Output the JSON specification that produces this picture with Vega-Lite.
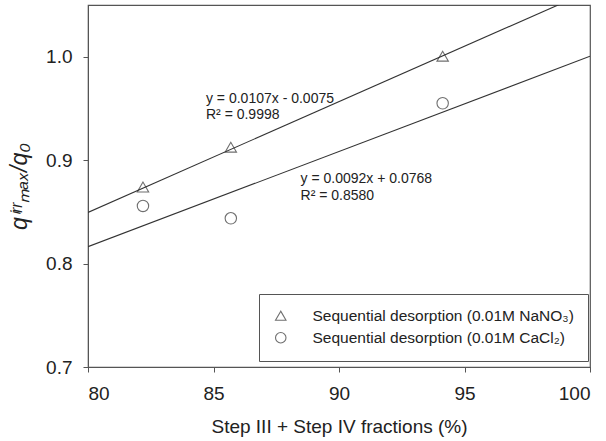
{
  "$schema": "https://vega.github.io/schema/vega-lite/v6.json",
  "width": 502,
  "height": 362,
  "autosize": {"type": "none"},
  "padding": {"left": 88, "top": 5, "right": 16, "bottom": 74},
  "background": "white",
  "config": {
    "font": "Liberation Sans",
    "view": {"stroke": "#555", "strokeWidth": 1.2},
    "axis": {
      "grid": false,
      "domainColor": "#555",
      "tickColor": "#555",
      "tickSize": 5,
      "labelColor": "#222",
      "titleColor": "#222",
      "labelFont": "Liberation Sans",
      "titleFont": "Liberation Sans",
      "labelFontSize": 19,
      "titleFontWeight": "normal"
    }
  },
  "datasets": {
    "pts": [
      {"x": 82.19, "y": 0.874, "s": "Sequential desorption (0.01M NaNO₃)"},
      {"x": 85.69, "y": 0.9125, "s": "Sequential desorption (0.01M NaNO₃)"},
      {"x": 94.13, "y": 1.0005, "s": "Sequential desorption (0.01M NaNO₃)"},
      {"x": 82.19, "y": 0.8557, "s": "Sequential desorption (0.01M CaCl₂)"},
      {"x": 85.69, "y": 0.8438, "s": "Sequential desorption (0.01M CaCl₂)"},
      {"x": 94.13, "y": 0.955, "s": "Sequential desorption (0.01M CaCl₂)"}
    ],
    "fits": [
      {"x": 80, "y": 0.8495, "f": "NaNO3"},
      {"x": 100, "y": 1.0636, "f": "NaNO3"},
      {"x": 80, "y": 0.8163, "f": "CaCl2"},
      {"x": 100, "y": 1.0005, "f": "CaCl2"}
    ],
    "labels": [
      {"x": 84.70, "y": 0.9557, "t": "y = 0.0107x - 0.0075"},
      {"x": 84.70, "y": 0.9395, "t": "R² = 0.9998"},
      {"x": 88.47, "y": 0.8776, "t": "y = 0.0092x + 0.0768"},
      {"x": 88.47, "y": 0.8615, "t": "R² = 0.8580"}
    ]
  },
  "layer": [
    {
      "data": {"name": "fits"},
      "mark": {"type": "line", "clip": true, "color": "#333", "strokeWidth": 1.1},
      "encoding": {
        "x": {"field": "x", "type": "quantitative", "scale": {"domain": [80, 100], "nice": false, "zero": false},
          "axis": {"values": [80, 85, 90, 95, 100], "labelPadding": 12, "title": "Step III + Step IV fractions (%)", "titleFontSize": 19, "titlePadding": 14}},
        "y": {"field": "y", "type": "quantitative", "scale": {"domain": [0.7, 1.05], "nice": false, "zero": false},
          "axis": {"values": [0.7, 0.8, 0.9, 1.0], "format": ".1f", "labelPadding": 11, "title": "qⁱʳʳₘₐₓ/q₀", "titleFontSize": 23, "titleFontStyle": "italic", "titlePadding": 14}},
        "detail": {"field": "f"}
      }
    },
    {
      "data": {"name": "pts"},
      "mark": {"type": "point", "filled": false, "color": "#333", "strokeWidth": 1.1, "size": 130},
      "encoding": {
        "x": {"field": "x", "type": "quantitative"},
        "y": {"field": "y", "type": "quantitative"},
        "shape": {
          "field": "s", "type": "nominal",
          "scale": {"domain": ["Sequential desorption (0.01M NaNO₃)", "Sequential desorption (0.01M CaCl₂)"], "range": ["triangle-up", "circle"]},
          "legend": {
            "title": null,
            "orient": "none",
            "legendX": 171,
            "legendY": 289,
            "direction": "vertical",
            "strokeColor": "#555",
            "fillColor": "white",
            "padding": 14,
            "labelFontSize": 15.5,
            "labelFont": "Liberation Sans",
            "labelColor": "#222",
            "labelOffset": 24,
            "labelLimit": 400,
            "rowPadding": 5,
            "symbolSize": 110,
            "symbolStrokeColor": "#333",
            "symbolStrokeWidth": 1.1
          }
        }
      }
    },
    {
      "data": {"name": "labels"},
      "mark": {"type": "text", "align": "left", "baseline": "alphabetic", "fontSize": 14, "font": "Liberation Sans", "color": "#222"},
      "encoding": {
        "x": {"field": "x", "type": "quantitative"},
        "y": {"field": "y", "type": "quantitative"},
        "text": {"field": "t"}
      }
    }
  ]
}
